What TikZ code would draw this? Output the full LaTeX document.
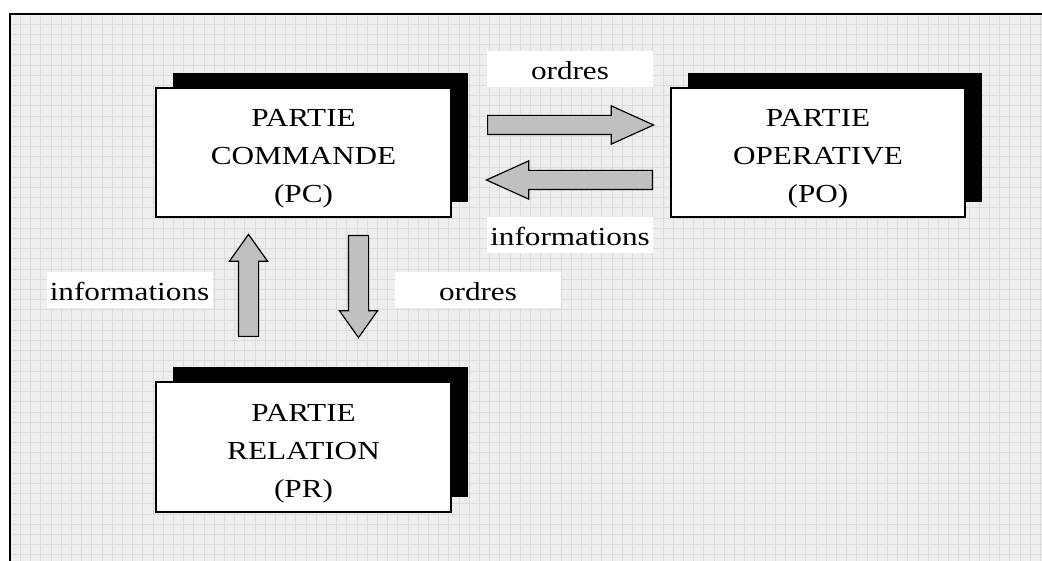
\documentclass[tikz,border=0pt]{standalone}
\usepackage{fontspec}
\setmainfont{Liberation Serif}
\usetikzlibrary{shapes.arrows,shadows}
\definecolor{bgc}{HTML}{EEEEEE}
\definecolor{gridc}{HTML}{DCDCDC}
\definecolor{arrc}{HTML}{C0C0C0}
\newcommand{\hstr}[1]{\scalebox{1.2}[1]{#1}}
\begin{document}
\begin{tikzpicture}[x=1pt,y=-1pt,
  box/.style={draw=black, line width=1.2pt, fill=white, minimum width=295pt,
    minimum height=129pt, inner sep=0pt, align=center,
    font=\fontsize{26}{38}\selectfont, text height=100pt, text depth=0pt,
    drop shadow={shadow xshift=17pt, shadow yshift=15pt, fill=black, opacity=1, draw=none}},
  lab/.style={fill=white, minimum width=166pt, minimum height=36pt, inner sep=0pt,
    font=\fontsize{26}{30}\selectfont, text height=22pt, text depth=0pt},
  blockarrow/.style={single arrow, draw=black, line width=1.2pt, fill=arrc,
    minimum width=37pt},
  harrow/.style={blockarrow, inner xsep=0pt, inner ysep=9pt, single arrow head extend=9.5pt,
    minimum height=166pt, single arrow tip angle=48.6},
  varrow/.style={blockarrow, inner ysep=0pt, inner xsep=9.5pt, single arrow head extend=9pt,
    minimum height=102pt, single arrow tip angle=70.8}]
\useasboundingbox (0,0) rectangle (1042,561);
% background with grid
\fill[bgc] (10,14) rectangle (1042,561);
\foreach \i in {1,...,101} {
  \draw[gridc, line width=0.6pt] (10+10.2*\i,14) -- (10+10.2*\i,561);
}
\foreach \j in {1,...,53} {
  \draw[gridc, line width=0.6pt] (10,14+10.2*\j) -- (1042,14+10.2*\j);
}
\draw[line width=2pt] (10,561) -- (10,14) -- (1042,14);
% boxes
\node[box] (pc) at (303.5,152.5) {\hstr{PARTIE}\\\hstr{COMMANDE}\\\hstr{(PC)}};
\node[box, minimum width=294pt] (po) at (818,152.5) {\hstr{PARTIE}\\\hstr{OPERATIVE}\\\hstr{(PO)}};
\node[box, minimum height=130pt] (pr) at (303.5,447) {\hstr{PARTIE}\\\hstr{RELATION}\\\hstr{(PR)}};
% labels
\node[lab] (l1) at (570,69) {\hstr{ordres}};
\node[lab] (l2) at (570,235) {\hstr{informations}};
\node[lab] (l3) at (129.5,290) {\hstr{informations}};
\node[lab] (l4) at (478,290) {\hstr{ordres}};
% block arrows
\node[harrow, anchor=tail] (a1) at (487,125) {};
\node[harrow, shape border rotate=180, anchor=tail] (a2) at (653,180) {};
\node[varrow, shape border rotate=90, anchor=tail] (a3) at (248.5,337) {};
\node[varrow, shape border rotate=270, anchor=tail] (a4) at (358.5,235) {};
\end{tikzpicture}
\end{document}
